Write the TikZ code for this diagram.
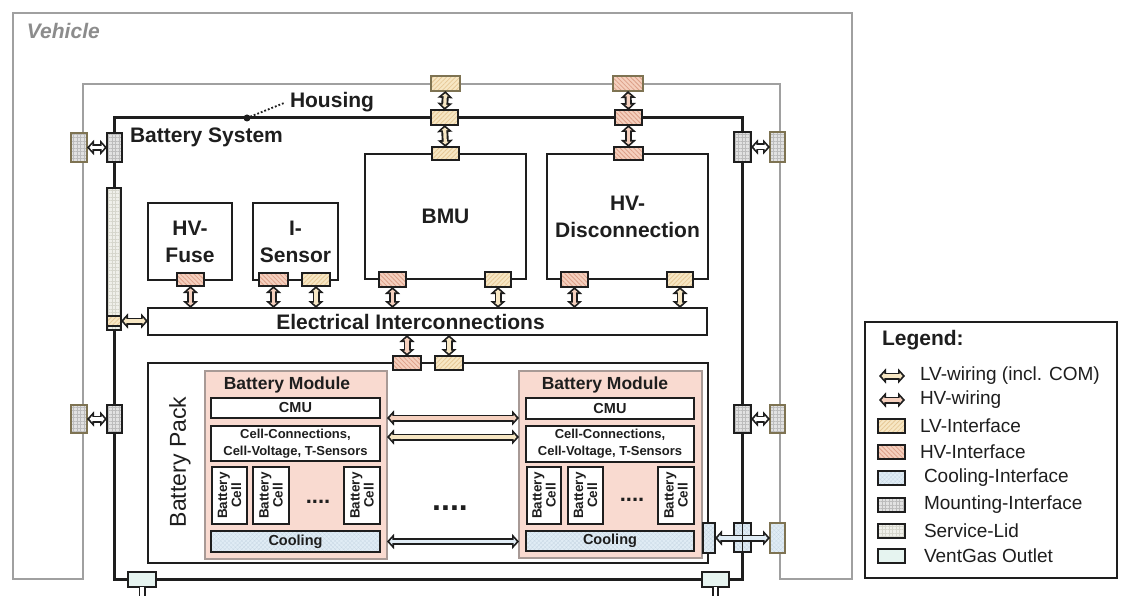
\documentclass[tikz,border=0pt]{standalone}
\usepackage{fontspec}
\setmainfont{Liberation Sans}
\usetikzlibrary{arrows.meta,patterns.meta,calc}
\definecolor{lvfill}{HTML}{F7E7C4}
\definecolor{lvhatch}{HTML}{E6C896}
\definecolor{hvfill}{HTML}{F5D0BE}
\definecolor{hvhatch}{HTML}{DC9F88}
\definecolor{coolfill}{HTML}{E0ECF5}
\definecolor{coolhatch}{HTML}{C6D6E3}
\definecolor{mountfill}{HTML}{E2E2E2}
\definecolor{mounthatch}{HTML}{BCBCBC}
\definecolor{lidfill}{HTML}{F0F0EA}
\definecolor{lidhatch}{HTML}{D6D6CC}
\definecolor{ventfill}{HTML}{E6F4F0}
\definecolor{modfill}{HTML}{F9DAD0}
\definecolor{modline}{HTML}{A89A96}
\definecolor{vehgray}{HTML}{A0A0A0}
\definecolor{vehtext}{HTML}{8C8C8C}
\definecolor{vehedge}{HTML}{7E7352}
\definecolor{ink}{HTML}{1E1E1E}
\newcommand\rb[7]{\node[#6,anchor=north west,minimum width={(#4)-(#2)},minimum height={(#5)-(#3)}] (#1) at (#2,#3) {#7};}
\begin{document}
\begin{tikzpicture}[x=1pt,y=-1pt,
  every node/.style={inner sep=0pt,outer sep=0pt,text=ink},
  blk/.style={draw=ink,line width=2.8pt,fill=white},
  sub/.style={draw=ink,line width=2.4pt,fill=white},
  modbox/.style={draw=modline,line width=1.5pt,fill=modfill},
  ifc/.style={line width=1.4pt,draw=ink},
  lvif/.style={ifc,preaction={fill=lvfill},pattern={Lines[angle=45,distance=3.2pt,line width=0.8pt]},pattern color=lvhatch},
  hvif/.style={ifc,preaction={fill=hvfill},pattern={Lines[angle=-45,distance=3.2pt,line width=0.8pt]},pattern color=hvhatch},
  coolif/.style={ifc,preaction={fill=coolfill},pattern={Hatch[angle=45,distance=3pt,line width=0.25pt]},pattern color=coolhatch},
  mountif/.style={ifc,preaction={fill=mountfill},pattern={Hatch[angle=0,distance=3.5pt,line width=0.3pt]},pattern color=mounthatch},
  lidif/.style={ifc,preaction={fill=lidfill},pattern={Hatch[angle=0,distance=3.5pt,line width=0.25pt]},pattern color=lidhatch},
  ventif/.style={ifc,fill=ventfill},
  lvifv/.style={lvif,draw=vehedge},
  hvifv/.style={hvif,draw=vehedge},
  coolifv/.style={coolif,draw=vehedge},
  mountifv/.style={mountif,draw=vehedge},
  wire/.style={preaction={draw=ink,line width=7pt,shorten >=0pt,shorten <=0pt,
      {Triangle[length=7pt,width=15pt]}-{Triangle[length=7pt,width=15pt]}},
    draw=#1,line width=3.2pt,shorten >=2.5pt,shorten <=2.5pt,
    {Triangle[length=2.8pt,width=6.4pt]}-{Triangle[length=2.8pt,width=6.4pt]}},
  lvwire/.style={wire=lvfill},
  hvwire/.style={wire=hvfill},
  coolwire/.style={wire=coolfill},
  mwire/.style={wire=white},
  ventwire/.style={preaction={draw=ink,line width=7pt,shorten >=0pt,-{Triangle[length=7pt,width=15pt]}},
    draw=white,line width=3.2pt,shorten >=2.5pt,-{Triangle[length=2.8pt,width=6.4pt]}},
  big/.style={font=\fontsize{21}{27}\selectfont\bfseries,align=center},
  cmuf/.style={font=\fontsize{14.5}{17}\selectfont\bfseries},
  ccf/.style={font=\fontsize{13}{17}\selectfont\bfseries,align=center},
  cellf/.style={font=\fontsize{13.5}{14}\selectfont\bfseries,align=center,rotate=90},
  legf/.style={font=\fontsize{19}{22}\selectfont,anchor=west},
]
\useasboundingbox (0,0) rectangle (1124,596);
\fill[white] (0,0) rectangle (1124,596);
% vehicle
\draw[vehgray,line width=2.6pt] (13,579) -- (13,13) -- (852,13) -- (852,579) -- (780,579) -- (780,84) -- (83,84) -- (83,579) -- cycle;
\node[anchor=base west,text=vehtext,font=\fontsize{21}{25}\selectfont\bfseries\itshape] (veh) at (27,39) {Vehicle};
% battery system
\rb{bs}{114}{118}{742}{579}{draw=ink,line width=3pt}{}
\node[anchor=base west,font=\fontsize{21}{25}\selectfont\bfseries] (bslabel) at (130,143) {Battery System};
\node[circle,fill=ink,minimum size=7pt] (hdot) at (247,118) {};
\node[anchor=base west,font=\fontsize{21}{25}\selectfont\bfseries] (hlabel) at (290,108) {Housing};
\draw[ink,line width=1.8pt,dotted] (hdot) -- ([xshift=-5pt]hlabel.west);
% service lid
\rb{lid}{107}{188}{121}{330}{lidif}{}
\rb{lidlv}{107}{316}{121}{326}{lvif}{}
% components
\rb{ei}{148}{308}{707}{335}{blk,big}{\hspace*{-34pt}Electrical Interconnections}
\rb{fuse}{148}{203}{232}{280}{blk,big}{HV-\\Fuse}
\rb{isen}{253}{203}{338}{280}{blk,big}{I-\\Sensor}
\rb{bmu}{365}{154}{526}{279}{blk,big}{BMU}
\rb{hvd}{547}{154}{708}{279}{blk,big}{HV-\\Disconnection}
% battery pack
\rb{bp}{148}{363}{708}{563}{blk}{}
\node[rotate=90,font=\fontsize{23}{25}\selectfont] (bplabel) at (180,462) {Battery Pack};
% module 1
\rb{bm1}{205}{371}{387}{559}{modbox}{}
\node[font=\fontsize{17.5}{20}\selectfont\bfseries] (bm1t) at (287,385) {Battery Module};
\rb{cmu1}{211}{398}{380}{418}{sub,cmuf}{CMU}
\rb{cc1}{211}{426}{380}{461}{sub,ccf}{Cell-Connections,\\Cell-Voltage, T-Sensors}
\rb{c11}{212}{467}{247}{524}{sub}{}
\rb{c12}{253}{467}{289}{524}{sub}{}
\rb{c13}{344}{467}{380}{524}{sub}{}
\node[cellf] (c11t) at (c11.center) {Battery\\Cell};
\node[cellf] (c12t) at (c12.center) {Battery\\Cell};
\node[cellf] (c13t) at (c13.center) {Battery\\Cell};
\node[font=\fontsize{22}{22}\selectfont\bfseries] (d1) at (318,502) {....};
\rb{cool1}{211}{531}{380}{552}{sub,coolif,line width=2.4pt,cmuf}{Cooling}
% module 2
\rb{bm2}{519}{371}{702}{558}{modbox}{}
\node[font=\fontsize{17.5}{20}\selectfont\bfseries] (bm2t) at (605,385) {Battery Module};
\rb{cmu2}{526}{398}{694}{419}{sub,cmuf}{CMU}
\rb{cc2}{526}{426}{694}{462}{sub,ccf}{Cell-Connections,\\Cell-Voltage, T-Sensors}
\rb{c21}{527}{467}{561}{524}{sub}{}
\rb{c22}{568}{467}{603}{524}{sub}{}
\rb{c23}{658}{467}{694}{524}{sub}{}
\node[cellf] (c21t) at (c21.center) {Battery\\Cell};
\node[cellf] (c22t) at (c22.center) {Battery\\Cell};
\node[cellf] (c23t) at (c23.center) {Battery\\Cell};
\node[font=\fontsize{22}{22}\selectfont\bfseries] (d2) at (632,500) {....};
\rb{cool2}{526}{531}{694}{551}{sub,coolif,line width=2.4pt,cmuf}{Cooling}
\node[font=\fontsize{32}{32}\selectfont\bfseries] (d3) at (450,508) {....};
% interfaces BMU / HVD
\rb{bmuV}{431}{76}{460}{91}{lvifv}{}
\rb{bmuH}{431}{110}{458}{125}{lvif}{}
\rb{bmuI}{432}{147}{459}{160}{lvif}{}
\rb{hvdV}{613}{76}{643}{91}{hvifv}{}
\rb{hvdH}{615}{110}{642}{125}{hvif}{}
\rb{hvdI}{614}{147}{643}{160}{hvif}{}
\rb{fuI}{177}{273}{204}{286}{hvif}{}
\rb{isH}{259}{273}{288}{286}{hvif}{}
\rb{isL}{302}{273}{330}{286}{lvif}{}
\rb{bmuB1}{379}{272}{406}{287}{hvif}{}
\rb{bmuB2}{485}{272}{511}{287}{lvif}{}
\rb{hvdB1}{561}{272}{588}{287}{hvif}{}
\rb{hvdB2}{667}{272}{693}{287}{lvif}{}
\rb{bpH}{393}{356}{421}{370}{hvif}{}
\rb{bpL}{435}{356}{463}{370}{lvif}{}
% mounting
\rb{mL1i}{107}{133}{122}{162}{mountif}{}
\rb{mL1o}{71}{133}{87}{162}{mountifv}{}
\rb{mR1i}{734}{132}{751}{162}{mountif}{}
\rb{mR1o}{770}{132}{785}{162}{mountifv}{}
\rb{mL2i}{107}{405}{122}{433}{mountif}{}
\rb{mL2o}{71}{405}{87}{433}{mountifv}{}
\rb{mR2i}{734}{405}{751}{433}{mountif}{}
\rb{mR2o}{770}{405}{785}{433}{mountifv}{}
% cooling ports
\rb{cp}{703}{523}{715}{553}{coolif}{}
\rb{cx}{734}{523}{751}{552}{coolif}{}
\rb{co}{770}{523}{785}{553}{coolifv}{}
% vent gas
\rb{v1}{128}{572}{156}{587}{ventif}{}
\rb{v2}{702}{572}{729}{587}{ventif}{}
% wires
\draw[lvwire] (bmuV.south) -- (bmuH.north);
\draw[lvwire] (bmuH.south) -- (bmuI.north);
\draw[hvwire] (hvdV.south) -- (hvdH.north);
\draw[hvwire] (hvdH.south) -- (hvdI.north);
\draw[hvwire] (fuI.south) -- (fuI.south |- ei.north);
\draw[hvwire] (isH.south) -- (isH.south |- ei.north);
\draw[lvwire] (isL.south) -- (isL.south |- ei.north);
\draw[hvwire] (bmuB1.south) -- (bmuB1.south |- ei.north);
\draw[lvwire] (bmuB2.south) -- (bmuB2.south |- ei.north);
\draw[hvwire] (hvdB1.south) -- (hvdB1.south |- ei.north);
\draw[lvwire] (hvdB2.south) -- (hvdB2.south |- ei.north);
\draw[hvwire] (bpH.north |- ei.south) -- (bpH.north);
\draw[lvwire] (bpL.north |- ei.south) -- (bpL.north);
\draw[lvwire] (lidlv.east) -- (lidlv.east -| ei.west);
\draw[mwire] (mL1o.east) -- (mL1i.west);
\draw[mwire] (mR1i.east) -- (mR1o.west);
\draw[mwire] (mL2o.east) -- (mL2i.west);
\draw[mwire] (mR2i.east) -- (mR2o.west);
\draw[hvwire] (bm1.east |- cmu1.south) -- (bm2.west |- cmu1.south);
\draw[lvwire] ($(bm1.east |- cc1.north)+(0,11)$) -- ($(bm2.west |- cc1.north)+(0,11)$);
\draw[coolwire] (bm1.east |- cool1) -- (bm2.west |- cool1);
\draw[coolwire] (cp.east) -- (co.west);
\draw[ink,line width=1.3pt] (cx.north) -- (cx.south);
\draw[ventwire] (v1.south) -- ++(0,16);
\draw[ventwire] (v2.south) -- ++(0,16);
% legend
\rb{leg}{865}{322}{1117}{578}{draw=ink,line width=1.5pt}{}
\node[anchor=west,font=\fontsize{21}{25}\selectfont\bfseries] (legt) at (882,340) {Legend:};
\coordinate (lwa) at (879,376); \coordinate (lwb) at (905,376);
\coordinate (hwa) at (879,400); \coordinate (hwb) at (905,400);
\draw[lvwire] (lwa) -- (lwb);
\draw[hvwire] (hwa) -- (hwb);
\node[legf] (lt1) at (920,376) {LV-wiring (incl. COM)};
\node[legf] (lt2) at (920,400) {HV-wiring};
\rb{li3}{878}{419}{905}{433}{lvif}{}
\node[legf] (lt3) at (920,426) {LV-Interface};
\rb{li4}{878}{445}{905}{459}{hvif}{}
\node[legf] (lt4) at (920,452) {HV-Interface};
\rb{li5}{878}{471}{905}{485}{coolif}{}
\node[legf] (lt5) at (924,478) {Cooling-Interface};
\rb{li6}{878}{498}{905}{512}{mountif}{}
\node[legf] (lt6) at (924,505) {Mounting-Interface};
\rb{li7}{878}{524}{905}{538}{lidif}{}
\node[legf] (lt7) at (924,531) {Service-Lid};
\rb{li8}{878}{549}{905}{563}{ventif}{}
\node[legf] (lt8) at (924,556) {VentGas Outlet};
\end{tikzpicture}
\end{document}
